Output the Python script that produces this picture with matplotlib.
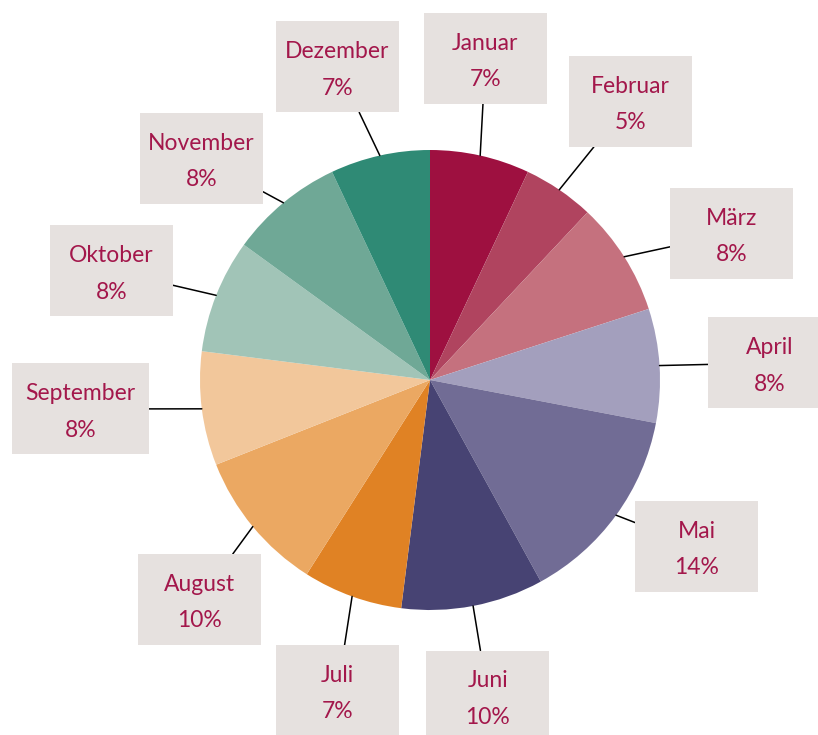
import matplotlib.pyplot as plt
import numpy as np
from matplotlib.patches import Rectangle, FancyArrowPatch

MONTHS = ["Januar", "Februar", "März", "April", "Mai", "Juni",
          "Juli", "August", "September", "Oktober", "November", "Dezember"]
SHARES = [7, 5, 8, 8, 14, 10, 7, 10, 8, 8, 8, 7]

COLORS = ["#9E1040", "#B0445F", "#C5717E", "#A39FBD", "#716C95", "#474373",
          "#E08224", "#EBA862", "#F2C79B", "#A1C4B7", "#6FA896", "#2F8A75"]

# box centres, in pie radii from the centre
LABEL_XY = [(0.241, 1.398), (0.872, 1.211), (1.311, 0.637), (1.478, 0.074),
            (1.159, -0.724), (0.252, -1.374), (-0.402, -1.350), (-1.002, -0.954),
            (-1.520, -0.126), (-1.385, 0.474), (-0.993, 0.963), (-0.402, 1.361)]
# box widths in pixels
BOX_WIDTHS = [123, 123, 123, 123, 123, 123, 123, 123, 137, 123, 123, 123]

PX = 230.0  # pixels per pie radius
BOX_H = 91 / PX
BOX_COLOR = "#E6E1DF"
TEXT_COLOR = "#A3174B"

fig = plt.figure(figsize=(8.18, 7.35), dpi=100)
ax = fig.add_axes([0, 0, 1, 1])

wedges, _ = ax.pie(SHARES, colors=COLORS, startangle=90, counterclock=False,
                   radius=1.0, wedgeprops=dict(linewidth=0))

ax.set_xlim(-430 / PX, 388 / PX)
ax.set_ylim(-355 / PX, 380 / PX)
ax.set_aspect("auto")
ax.axis("off")

for w, name, share, (bx, by), bw in zip(wedges, MONTHS, SHARES, LABEL_XY, BOX_WIDTHS):
    ax.text(bx, by - 3 / PX, f"{name}\n{share}%", ha="center", va="center",
            multialignment="center", fontsize=16.5, family="Lato",
            color=TEXT_COLOR, linespacing=1.9, zorder=4)
    bw = bw / PX
    rect = Rectangle((bx - bw / 2, by - BOX_H / 2), bw, BOX_H,
                     facecolor=BOX_COLOR, edgecolor="none", zorder=3)
    ax.add_patch(rect)

    mid = np.deg2rad((w.theta1 + w.theta2) / 2)
    edge = (np.cos(mid), np.sin(mid))
    line = FancyArrowPatch(posA=(bx, by), posB=edge, arrowstyle="-",
                           patchA=rect, shrinkA=0, shrinkB=0,
                           color="black", linewidth=1.1, zorder=2)
    ax.add_patch(line)

fig.savefig("out.png", dpi=100)
